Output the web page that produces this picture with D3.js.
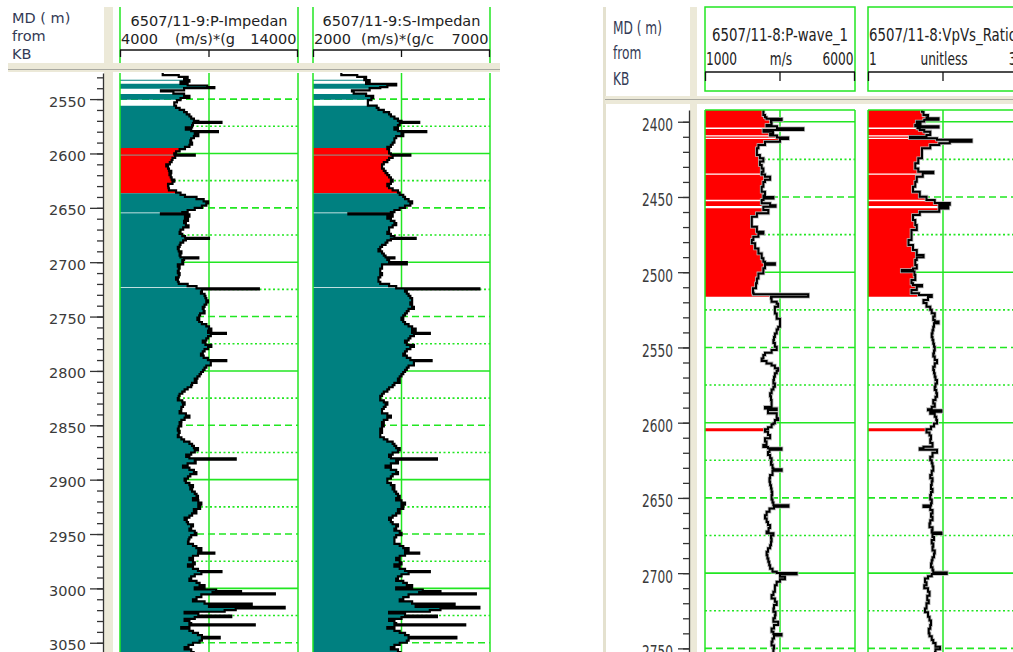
<!DOCTYPE html>
<html>
<head>
<meta charset="utf-8">
<script src="https://cdn.jsdelivr.net/npm/d3@7"></script>
<style>
body { margin: 0; background: #fff; }
svg { display: block; }
text { font-family: "DejaVu Sans", sans-serif; }
</style>
</head>
<body>
<div id="chart"></div>
<script>
const width = 1013
const height = 652

// ---------- data: well 6507/11-9 (depth m, P-impedance, S-impedance) ----------
const wellALog = [
  [2526,6400,2800],[2528,7300,3250],[2529.5,7800,3500],[2531,7600,3450],[2532.5,7900,3600],[2534,7400,3500],[2536,7800,4350],[2537.5,8900,4100],
  [2539,9300,3900],[2540,7600,3600],[2542,6300,3100],[2543,7000,3150],[2545,7600,3500],[2547,7900,3700],[2549,7400,3650],[2551,7200,3550],
  [2553,7050,3550],[2556,7150,3800],[2558,7350,3850],[2560,7600,4000],[2562,7750,4150],[2564,7900,4200],[2566,8000,4300],[2568,8150,4400],
  [2570,8400,4500],[2571,9700,5000],[2572,8100,4450],[2574,8050,4400],[2576,7700,4300],[2578,8000,4400],[2579.5,9500,5200],[2580.5,8200,4500],
  [2582,8400,4550],[2584,8150,4350],[2586,8000,4300],[2588,7950,4300],[2590,8050,4250],[2592,7900,4200],[2594,7650,4100],[2596,7350,4150],
  [2598,7150,4150],[2600,7050,4200],[2601,8200,4750],[2602,7100,4250],[2604,6950,4150],[2606,6900,4100],[2608,6800,4000],[2610,6600,3950],
  [2612,6700,3950],[2614,6750,4000],[2616,6880,4050],[2618,6780,4100],[2620,6850,4150],[2622,6900,4200],[2624,7050,4250],[2626,6950,4200],
  [2628,6700,4100],[2630,6720,4150],[2632,6750,4250],[2634,7150,4400],[2636,7400,4450],[2638,7650,4550],[2640,8300,4600],[2642,8700,4700],
  [2644,8950,4800],[2646,8850,4750],[2648,8600,4600],[2650,8200,4450],[2652,7800,4300],[2654,7500,4200],[2655,6300,3000],[2656,7900,4250],
  [2658,7650,4100],[2660,7820,4200],[2662,7600,4300],[2664,7700,4350],[2666,7850,4250],[2668,7550,4150],[2670,7400,4150],[2672,7350,4100],
  [2674,7500,4200],[2676,7650,4300],[2677.5,9000,4900],[2678.5,7700,4200],[2680,7550,4100],[2682,7400,4050],[2684,7350,3950],[2686,7250,3900],
  [2688,7300,3850],[2690,7450,3950],[2692,7350,4000],[2694,7400,4050],[2695.5,8400,4300],[2696.5,7600,4100],[2698,7500,4150],[2700,7550,4650],
  [2702,7250,3950],[2704,7350,3950],[2706,7300,3900],[2708,7250,3900],[2710,7350,3950],[2712,7300,3900],[2714,7150,3850],[2716,7250,3850],
  [2718,7300,3900],[2720,7800,4150],[2722,8300,4350],[2724,11800,6700],[2725,8600,4600],[2727,8550,4650],[2729,8750,4700],[2731,8800,4750],
  [2733,8850,4800],[2735,8940,4800],[2737,8850,4750],[2739,8750,4800],[2741,8650,4850],[2743,8700,4700],[2745,8750,4650],[2747,8500,4600],
  [2749,8450,4550],[2751,8350,4500],[2753,8450,4550],[2755,8600,4600],[2757,8850,4700],[2759,9000,4800],[2761,9130,4900],[2763,8950,4800],
  [2765,9950,5300],[2766,9100,4850],[2768,8950,4750],[2770,8850,4700],[2772,8650,4600],[2774,8800,4650],[2776,9130,4850],[2778,8950,4750],
  [2780,8750,4650],[2782,8650,4600],[2784,8550,4550],[2786,8700,4650],[2788,8940,4750],[2790,9970,5350],[2791,9100,4850],[2793,9100,4850],
  [2795,8850,4700],[2797,8750,4650],[2799,8660,4600],[2801,8550,4550],[2803,8470,4500],[2805,8350,4450],[2807,8200,4400],[2809,8300,4450],
  [2811,8050,4300],[2813,8000,4250],[2815,7800,4150],[2817,7630,4100],[2819,7500,4000],[2821,7350,3950],[2823,7300,3900],[2825,7250,3900],
  [2827,7500,4000],[2829,7630,4100],[2831,7540,4050],[2833,7450,4000],[2835,7440,3950],[2837,7350,3950],[2839,7700,4100],[2841,7900,4200],
  [2843,7630,4100],[2845,7450,4000],[2847,7350,3950],[2849,7440,4000],[2851,7300,3950],[2853,7250,3900],[2855,7350,3950],[2857,7300,3900],
  [2859,7250,3900],[2861,7450,4000],[2863,7600,4100],[2865,7900,4250],[2867,8050,4300],[2869,8150,4350],[2871,8380,4450],[2873,8200,4400],
  [2875,8000,4250],[2877,7720,4150],[2879,7900,4200],[2880.5,10500,5500],[2881.5,8200,4350],[2883,8250,4400],[2885,7800,4200],[2887,7540,4050],
  [2889,7900,4200],[2891,8150,4350],[2893,8290,4400],[2895,7950,4250],[2897,7820,4200],[2899,7630,4100],[2901,7700,4100],[2903,7900,4200],
  [2905,8100,4300],[2907,7950,4250],[2909,8050,4300],[2911,8200,4350],[2913,8300,4400],[2915,8380,4450],[2917,8100,4350],[2919,8400,4500],
  [2921,8570,4600],[2923,8400,4500],[2925,8500,4550],[2927,8150,4400],[2929,8290,4450],[2931,8050,4350],[2933,7900,4250],[2935,7630,4150],
  [2937,7750,4200],[2939,7820,4250],[2941,8100,4400],[2943,8000,4350],[2945,7900,4300],[2947,8200,4450],[2949,8290,4500],[2951,8000,4350],
  [2953,7900,4300],[2955,7850,4300],[2957,7820,4300],[2959,8100,4450],[2961,8290,4550],[2963,8570,4700],[2965,8400,4600],[2967,9300,5000],
  [2968,8380,4600],[2970,8100,4450],[2972,7900,4350],[2974,8100,4450],[2976,8200,4500],[2978,7820,4300],[2980,8100,4450],[2982,8380,4600],
  [2984,9700,5300],[2985,8570,4700],[2987,8200,4500],[2989,8000,4400],[2991,7900,4350],[2993,8300,4550],[2995,8470,4650],[2997,8750,4800],
  [2999,8200,4350],[3001,9400,5100],[3002.5,10800,5600],[3003.5,9200,5000],[3004.5,12700,6600],[3005.5,8570,4700],[3008,8300,4550],[3010,8100,4450],
  [3012,8750,4800],[3014,11400,6000],[3015.5,9000,4900],[3017,13250,6700],[3018.5,10500,5600],[3020,9880,5300],[3021.5,7630,4150],[3023,8400,4600],
  [3025,10250,5500],[3026.5,8200,4500],[3028,7630,4150],[3030,7900,4300],[3032,8000,4350],[3033,11570,6300],[3034,7900,4300],[3035.5,7440,4100],
  [3037,7900,4300],[3039,8100,4450],[3041,8380,4600],[3043,8600,4700],[3044.5,9600,6050],[3046,8600,4700],[3048,8470,4650],[3050,8100,4450],
  [3052,7850,4300],[3054,7630,4200],[3056,8000,4400],[3058.5,8200,4500]
]

// shading zones of well 6507/11-9 (top, base, colour)
const wellAZoneTop = [2532.2, 2536, 2545.4, 2556.2, 2595, 2601.2, 2601.8, 2636.5, 2655, 2723.6]
const wellAZoneBase = [2533.2, 2540.6, 2550.6, 2595, 2601.2, 2601.8, 2636.5, 2654.3, 2722.8, 3058.5]
const wellAZoneColor = ["#008080", "#008080", "#008080", "#008080", "#ff0000", "#206060", "#ff0000", "#008080", "#008080", "#008080"]

// ---------- data: well 6507/11-8 ----------
const pWaveLog = [
  [2392.2,2950],[2393.4,2945],[2395.6,3000],[2397,3050],[2398,3555],[2399,3200],[2400.5,3220],[2402.2,3050],[2403,3400],[2404.4,4275],
  [2405.5,2950],[2406.6,3270],[2408.2,3170],[2409.2,3400],[2410.5,3770],[2411.5,3500],[2413.3,3000],[2415.5,2780],[2417.7,2730],[2419.9,2730],
  [2422.1,2830],[2424.3,2945],[2426.5,2830],[2428.8,2890],[2431,2945],[2433.2,2890],[2435,3000],[2436.5,3170],[2438.5,3000],[2440,2945],
  [2443.2,2890],[2446.5,3000],[2449,2950],[2450,3280],[2451,2950],[2452,2890],[2454.2,3170],[2455.5,3350],[2456.5,2945],[2458.7,3110],
  [2460.9,2730],[2463.1,2560],[2466.4,2560],[2469.8,2730],[2473.1,2945],[2474.5,2780],[2476.4,2610],[2478.6,2560],[2480.8,2670],[2484.2,2780],
  [2487.5,2890],[2490.8,2945],[2493,3000],[2494.1,3330],[2495,3000],[2497.4,2945],[2500.8,2780],[2504.1,2730],[2507.4,2700],[2510.7,2600],
  [2513.6,2620],[2514.7,4440],[2516.3,3200],[2517.4,3220],[2519.7,3390],[2521,3440],[2523,3330],[2525.2,3330],[2527.5,3390],[2529.6,3390],
  [2531,3500],[2533,3500],[2536.2,3440],[2538,3390],[2540.7,3330],[2543,3300],[2545.1,3280],[2547,3330],[2549.5,3390],[2551.7,3220],
  [2553.5,3000],[2555.1,2945],[2557.3,2890],[2559,3050],[2560.6,3220],[2562,3330],[2563.9,3440],[2565.5,3390],[2567.2,3330],[2569.5,3300],
  [2571.7,3280],[2574,3330],[2576.1,3280],[2578,3220],[2580.5,3170],[2582.5,3200],[2585,3220],[2587.2,3220],[2589.5,3000],[2590.5,3390],
  [2591.6,3100],[2593.8,3390],[2594.9,3390],[2597.1,3440],[2598.3,3330],[2600.4,3280],[2601.1,3220],[2603,3100],[2604.4,3000],[2606,3100],
  [2608.2,3170],[2610.4,3000],[2612.5,3050],[2614.8,2945],[2616.2,3100],[2617,3550],[2618,3150],[2619.5,3100],[2621.5,3170],[2623.7,3220],
  [2626,3200],[2628,3250],[2630.3,3280],[2631,3555],[2632,3250],[2634.8,3170],[2637,3150],[2639.3,3170],[2641.5,3200],[2643.7,3220],
  [2646,3240],[2648.1,3220],[2651,3250],[2653,3280],[2654.8,3780],[2655.8,3300],[2657,3150],[2659.2,3055],[2661.5,3000],[2663.7,3055],
  [2666,3100],[2668,3170],[2670,3120],[2672.4,3055],[2673.5,3280],[2675,3200],[2676.9,3220],[2679,3200],[2681.4,3170],[2683.5,3100],
  [2685.8,3055],[2688,3080],[2690.3,3110],[2692.5,3140],[2694.7,3170],[2697,3250],[2699.1,3390],[2699.9,4055],[2700.8,3500],[2702.4,3665],
  [2704,3500],[2705.7,3390],[2708,3330],[2710.1,3330],[2712.3,3280],[2714.6,3220],[2716.8,3330],[2719,3390],[2721.2,3300],[2723.5,3280],
  [2725.7,3350],[2727.9,3330],[2730,3280],[2732.3,3440],[2734.5,3300],[2736.7,3220],[2739,3280],[2740.5,3550],[2741.5,3300],[2743.5,3250],
  [2745.6,3220],[2748,3300],[2750,3280],[2752.4,3250]
]

const vpvsLog = [
  [2392.2,1.72],[2393.4,1.74],[2395.6,1.80],[2397,1.78],[2397.7,1.94],[2398.6,1.75],[2399.9,1.65],[2401.2,1.70],[2402.2,1.63],[2403,1.94],
  [2403.8,1.66],[2404.4,1.69],[2405.5,1.75],[2406.6,1.83],[2408.8,1.78],[2410,1.56],[2411,1.92],[2412,2.38],[2413.3,2.09],[2414.3,1.95],
  [2415.5,1.83],[2417.7,1.72],[2421,1.72],[2424.3,1.67],[2427.6,1.63],[2431,1.67],[2433.2,1.87],[2434.2,1.73],[2436.5,1.65],[2439.9,1.63],
  [2443.2,1.60],[2446.5,1.69],[2449.8,1.78],[2452,1.89],[2454,2.09],[2455.2,1.95],[2456.5,2.07],[2457.6,1.95],[2459.8,1.69],[2462,1.60],
  [2465.3,1.63],[2468.6,1.65],[2472,1.58],[2475.3,1.58],[2478.6,1.54],[2481.9,1.60],[2485.3,1.65],[2488.6,1.74],[2490,1.65],[2491.9,1.63],
  [2495.2,1.65],[2497.5,1.60],[2498.5,1.45],[2499.5,1.62],[2501.9,1.63],[2505.2,1.58],[2507.4,1.60],[2508.5,1.72],[2509.5,1.65],[2511.8,1.58],
  [2514,1.68],[2515.2,1.85],[2516.5,1.80],[2518.5,1.74],[2520.5,1.78],[2522.9,1.83],[2525,1.85],[2527.3,1.89],[2529.5,1.87],[2531.8,1.89],
  [2532.8,1.94],[2534,1.88],[2536.2,1.87],[2538.5,1.86],[2540.7,1.85],[2543,1.86],[2545.1,1.87],[2547.5,1.88],[2549.5,1.89],[2552,1.88],
  [2554,1.87],[2556,1.89],[2558.4,1.92],[2560.5,1.89],[2562.8,1.87],[2565,1.88],[2567.2,1.89],[2569.5,1.90],[2571.7,1.92],[2574,1.90],
  [2576.1,1.89],[2578.3,1.91],[2580.5,1.92],[2582.8,1.90],[2585,1.87],[2587.2,1.89],[2589.4,1.85],[2591,1.80],[2591.8,1.98],[2592.8,1.83],
  [2594,1.89],[2596,1.91],[2598.3,1.92],[2600.5,1.88],[2602.5,1.84],[2604.4,1.78],[2606.5,1.82],[2608.5,1.84],[2611,1.83],[2613.5,1.86],
  [2616,1.74],[2617,1.69],[2618,1.92],[2620,1.86],[2622.6,1.83],[2625,1.85],[2627,1.86],[2629.2,1.87],[2632,1.85],[2634.8,1.83],
  [2637,1.86],[2639,1.85],[2641.4,1.84],[2644,1.86],[2646,1.84],[2648.1,1.83],[2651,1.85],[2653.5,1.84],[2655,1.74],[2656,1.83],
  [2658,1.86],[2660.3,1.84],[2662.5,1.86],[2664.8,1.83],[2667,1.82],[2669.5,1.86],[2671.5,1.85],[2673,1.98],[2674,1.86],[2676,1.88],
  [2678,1.85],[2680.3,1.87],[2682.5,1.86],[2685,1.89],[2687,1.88],[2689.5,1.86],[2691.5,1.85],[2693.6,1.84],[2696,1.86],[2698,1.87],
  [2699.5,2.05],[2700.5,1.85],[2702,1.80],[2703.5,1.76],[2706,1.78],[2708,1.75],[2710,1.80],[2712.4,1.82],[2715,1.79],[2718,1.81],
  [2720,1.78],[2723.5,1.76],[2726,1.80],[2729,1.82],[2731.5,1.84],[2734.5,1.83],[2737,1.81],[2740,1.82],[2742,1.85],[2744.5,1.87],
  [2746.5,1.90],[2748.9,1.96],[2750.5,1.90],[2752.4,1.88]
]

// shading zones of well 6507/11-8
const wellBZoneTop = [2392.2, 2404.8, 2409.8, 2411.4, 2435.2, 2452.8, 2457.5, 2603.7]
const wellBZoneBase = [2403.8, 2409.0, 2410.6, 2434.4, 2451.8, 2456.0, 2516.3, 2605.7]
const wellBZoneColor = ["#ff0000", "#ff0000", "#ff0000", "#ff0000", "#ff0000", "#ff0000", "#ff0000", "#ff0000"]

// ---------- headers and ticks ----------
const trackTitles = ["6507/11-9:P-Impedan", "6507/11-9:S-Impedan", "6507/11-8:P-wave_1", "6507/11-8:VpVs_Ratio"]
const trackUnits = ["(m/s)*(g", "(m/s)*(g/c", "m/s", "unitless"]
const trackMin = [4000, 2000, 1000, 1]
const trackMax = [14000, 7000, 6000, 3]
const depthLabelLines = ["MD ( m)", "from", "KB"]
const wellADepthTicks = [2550, 2600, 2650, 2700, 2750, 2800, 2850, 2900, 2950, 3000, 3050]
const wellBDepthTicks = [2400, 2450, 2500, 2550, 2600, 2650, 2700, 2750]

const beige = "#ece9d8"
const green = "#22e622"
const svg = d3.select("div#chart").append("svg").attr("width", width).attr("height", height)
svg.append("rect").attr("width", width).attr("height", height).attr("fill", "#fff")
const defs = svg.append("defs")

const panels = [
  {
    id: "wellA", domain: [2526, 3058.5], top: 73, axisX: 103, beigeW: 9, majorTick: 13, labelGap: 17,
    sep: {x0: 8, x1: 500, y: 63, h: 9, line: 69.5},
    mdX: 12, mdY: [23, 41, 59], sx: 1, sy: 1, titleSx: 1, box: false, headerBottom: 63,
    titleY: 26, scaleY: 44, barY: 50, barTick: 7, labelDy: 7, curveW: 2.2, halo: null,
    ticks: wellADepthTicks,
    zones: {top: wellAZoneTop, base: wellAZoneBase, color: wellAZoneColor},
    tracks: [
      {i: 0, x0: 120, x1: 298, rows: wellALog, col: 1},
      {i: 1, x0: 313, x1: 490, rows: wellALog, col: 2}
    ]
  },
  {
    id: "wellB", domain: [2392.2, 2752.4], top: 110, axisX: 689, beigeW: 7, majorTick: 11, labelGap: 16,
    sep: {x0: 605, x1: 1013, y: 96, h: 8, line: 99.5},
    mdX: 613, mdY: [34, 59, 85], sx: 0.84, sy: 1.2, titleSx: 0.92, box: true, headerBottom: 91,
    titleY: 41, scaleY: 65, barY: 72, barTick: 9, labelDy: 9, curveW: 2, halo: "#b8b8b8",
    ticks: wellBDepthTicks,
    zones: {top: wellBZoneTop, base: wellBZoneBase, color: wellBZoneColor},
    tracks: [
      {i: 2, x0: 705, x1: 855, rows: pWaveLog, col: 1},
      {i: 3, x0: 868, x1: 1018, rows: vpvsLog, col: 1}
    ]
  }
]

function addText(g, x, y, str, anchor, sx, sy, color) {
  return g.append("text")
    .attr("transform", `translate(${x},${y}) scale(${sx},${sy})`)
    .attr("text-anchor", anchor)
    .attr("font-size", 14.5)
    .attr("fill", color)
    .text(str)
}

// right panel thin left border
svg.append("rect").attr("x", 603).attr("y", 7).attr("width", 3).attr("height", height - 7).attr("fill", "#e4e1cf")

panels.forEach(p => {
  const y = d3.scaleLinear().domain(p.domain).range([p.top, height])
  const g = svg.append("g").attr("id", p.id)

  // beige column next to depth axis and header separator
  g.append("rect").attr("x", p.axisX + 1).attr("y", 7).attr("width", p.beigeW).attr("height", height - 7).attr("fill", beige)
  g.append("rect").attr("x", p.sep.x0).attr("y", p.sep.y).attr("width", p.sep.x1 - p.sep.x0).attr("height", p.sep.h).attr("fill", beige)
  g.append("line").attr("x1", p.sep.x0).attr("x2", p.sep.x1).attr("y1", p.sep.line).attr("y2", p.sep.line)
    .attr("stroke", "#a8a8a0").attr("stroke-width", 1.2)

  // "MD ( m) from KB"
  depthLabelLines.forEach((t, k) => addText(g, p.mdX, p.mdY[k], t, "start", p.sx, p.sy, "#333a55"))

  // depth axis: minor then major ticks
  const minor = d3.range(Math.ceil(p.domain[0] / 10) * 10, p.domain[1], 10)
  g.append("g").attr("transform", `translate(${p.axisX},0)`)
    .call(d3.axisLeft(y).tickValues(minor).tickSize(6).tickSizeOuter(0).tickFormat(""))
    .call(a => a.selectAll("line, path").attr("stroke", "#333").attr("stroke-width", 1.3))
  const major = g.append("g").attr("transform", `translate(${p.axisX},0)`)
    .call(d3.axisLeft(y).tickValues(p.ticks).tickSize(p.majorTick).tickSizeOuter(0).tickFormat(d3.format("d")))
  major.select(".domain").remove()
  major.selectAll("line").attr("stroke", "#333").attr("stroke-width", 1.3)
  major.selectAll("text")
    .attr("font-size", 14.5).attr("font-family", "DejaVu Sans, sans-serif").attr("fill", "#3a3a3a")
    .attr("x", -p.labelGap / p.sx).attr("dy", p.labelDy / p.sy)
    .attr("transform", `scale(${p.sx},${p.sy})`)

  // zone clip paths
  p.zones.top.forEach((t, k) => {
    defs.append("clipPath").attr("id", `${p.id}-zone-${k}`)
      .append("rect").attr("x", 0).attr("width", width)
      .attr("y", y(t)).attr("height", y(p.zones.base[k]) - y(t))
  })

  p.tracks.forEach(tr => {
    const x = d3.scaleLinear().domain([trackMin[tr.i], trackMax[tr.i]]).range([tr.x0, tr.x1])
    const mid = (tr.x0 + tr.x1) / 2

    // header
    const h = g.append("g")
    if (p.box) {
      h.append("rect").attr("x", tr.x0).attr("y", 7).attr("width", tr.x1 - tr.x0).attr("height", p.headerBottom - 7)
        .attr("fill", "none").attr("stroke", green).attr("stroke-width", 1.5)
    } else {
      [tr.x0, tr.x1].forEach(xx => h.append("line").attr("x1", xx).attr("x2", xx).attr("y1", 7).attr("y2", p.headerBottom)
        .attr("stroke", green).attr("stroke-width", 1.5))
    }
    addText(h, mid, p.titleY, trackTitles[tr.i], "middle", p.titleSx, p.sy, "#222")
    addText(h, tr.x0 + 1, p.scaleY, trackMin[tr.i], "start", p.sx, p.sy, "#222")
    addText(h, tr.x1 - 1.5, p.scaleY, trackMax[tr.i], "end", p.sx, p.sy, "#222")
    addText(h, mid - (p.box ? -1 : 4), p.scaleY, trackUnits[tr.i], "middle", p.sx, p.sy, "#222")
    h.append("line").attr("x1", tr.x0).attr("x2", tr.x1).attr("y1", p.barY).attr("y2", p.barY).attr("stroke", "#111").attr("stroke-width", 1.3)
    ;[tr.x0 + 0.5, mid, tr.x1 - 0.5].forEach(xx => h.append("line").attr("x1", xx).attr("x2", xx)
      .attr("y1", p.barY).attr("y2", p.barY + p.barTick).attr("stroke", "#111").attr("stroke-width", 1.3))

    // track body
    const clipId = `${p.id}-track-${tr.i}`
    defs.append("clipPath").attr("id", clipId)
      .append("rect").attr("x", tr.x0).attr("y", p.top).attr("width", tr.x1 - tr.x0).attr("height", height - p.top)
    const body = g.append("g").attr("clip-path", `url(#${clipId})`)

    // depth grid: solid every 100, dashed every 50, dotted every 25
    const gridDepths = d3.range(Math.ceil(p.domain[0] / 25) * 25, p.domain[1], 25)
    body.selectAll("line.grid").data(gridDepths).enter().append("line")
      .attr("class", "grid")
      .attr("x1", tr.x0).attr("x2", tr.x1)
      .attr("y1", d => y(d)).attr("y2", d => y(d))
      .attr("stroke", green)
      .attr("stroke-width", 1.6)
      .attr("stroke-dasharray", d => d % 100 === 0 ? null : d % 50 === 0 ? "7,4" : "2,2.5")
    body.append("line").attr("x1", mid).attr("x2", mid).attr("y1", p.top).attr("y2", height)
      .attr("stroke", green).attr("stroke-width", 1.5)

    // shaded fill between track edge and curve
    const area = d3.area()
      .y(d => y(d[0]))
      .x0(tr.x0)
      .x1(d => x(d[tr.col]))
      .curve(d3.curveStepBefore)
    p.zones.top.forEach((t, k) => {
      body.append("path").datum(tr.rows)
        .attr("clip-path", `url(#${p.id}-zone-${k})`)
        .attr("d", area)
        .attr("fill", p.zones.color[k])
    })

    // curve
    const line = d3.line()
      .y(d => y(d[0]))
      .x(d => x(d[tr.col]))
      .curve(d3.curveStepBefore)
    if (p.halo) {
      body.append("path").datum(tr.rows)
        .attr("d", line).attr("fill", "none")
        .attr("stroke", p.halo).attr("stroke-width", p.curveW + 1.6)
    }
    body.append("path").datum(tr.rows)
      .attr("d", line)
      .attr("fill", "none")
      .attr("stroke", "#000")
      .attr("stroke-width", p.curveW)

    // track borders
    ;[tr.x0, tr.x1].forEach(xx => g.append("line").attr("x1", xx).attr("x2", xx).attr("y1", p.top).attr("y2", height)
      .attr("stroke", green).attr("stroke-width", 1.5))
    if (p.box) {
      g.append("line").attr("x1", tr.x0).attr("x2", tr.x1).attr("y1", p.top).attr("y2", p.top)
        .attr("stroke", green).attr("stroke-width", 1.5)
    }
  })
})
</script>
</body>
</html>
